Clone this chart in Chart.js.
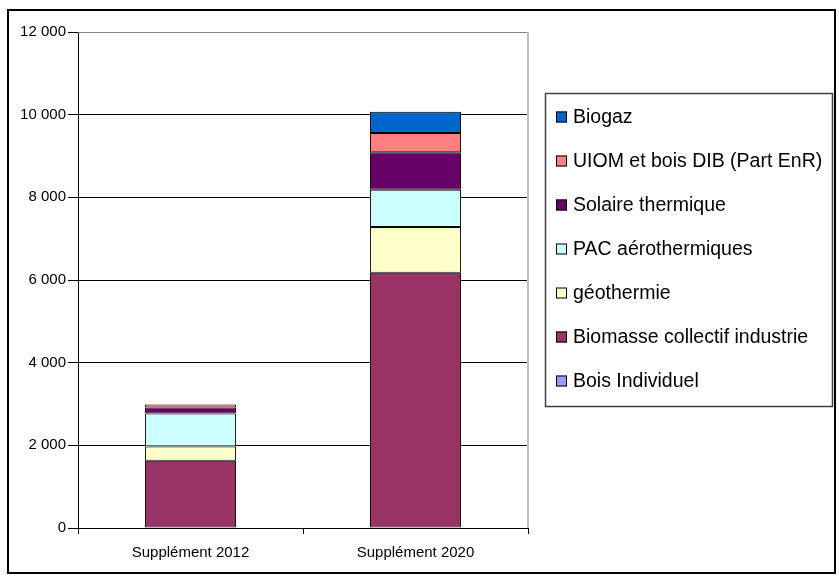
<!DOCTYPE html>
<html>
<head>
<meta charset="utf-8">
<script src="https://cdn.jsdelivr.net/npm/chart.js@4"></script>
<style>
    body { margin: 0; background: #fff; }
    #wrap { width: 839px; height: 580px; }
</style>
</head>
<body>
<div id="wrap"><canvas id="chart" width="839" height="580"></canvas></div>
<script>
const categories = ["Supplément 2012", "Supplément 2020"];

const seriesNames = [
    "Bois Individuel",
    "Biomasse collectif industrie",
    "géothermie",
    "PAC aérothermiques",
    "Solaire thermique",
    "UIOM et bois DIB (Part EnR)",
    "Biogaz"
];

const boisIndividuel = [0, 0];
const biomasse = [1630, 6175];
const geothermie = [340, 1110];
const pacAero = [800, 900];
const solaire = [145, 905];
const uiom = [75, 465];
const biogaz = [0, 515];

const yTicks = [0, 2000, 4000, 6000, 8000, 10000, 12000];

const colors = ["#9999FF", "#993366", "#FFFFCC", "#CCFFFF", "#660066", "#FF8080", "#0066CC"];
const seriesValues = [boisIndividuel, biomasse, geothermie, pacAero, solaire, uiom, biogaz];

function formatThousands(v) {
    return String(v).replace(/\B(?=(\d{3})+(?!\d))/g, " ");
}

const frameAndLegend = {
    id: "frameAndLegend",
    beforeDraw(chart) {
        const c = chart.ctx;
        c.save();
        c.fillStyle = "#fff";
        c.fillRect(0, 0, chart.width, chart.height);
        c.restore();
    },
    afterDraw(chart) {
        const c = chart.ctx;
        const area = chart.chartArea;
        c.save();

        // plot area edges (top and right)
        c.lineWidth = 1;
        c.strokeStyle = "#808080";
        c.beginPath();
        c.moveTo(area.left, area.top + 0.5);
        c.lineTo(area.right, area.top + 0.5);
        c.stroke();
        c.strokeStyle = "#c0c0c0";
        c.lineWidth = 2;
        c.beginPath();
        c.moveTo(area.right, area.top);
        c.lineTo(area.right, area.bottom);
        c.stroke();

        // outer frame
        c.strokeStyle = "#000";
        c.lineWidth = 2;
        c.strokeRect(8, 10, 827, 563);

        // legend box
        c.strokeStyle = "#404040";
        c.lineWidth = 1.5;
        c.strokeRect(545.5, 93.5, 287, 313);

        c.font = "19.5px 'Liberation Sans', Arial, sans-serif";
        c.textBaseline = "middle";
        c.textAlign = "left";
        let order = chart.data.datasets.slice().reverse();
        order.forEach((ds, i) => {
            let y = 117 + i * 44;
            c.fillStyle = ds.backgroundColor;
            c.fillRect(556, y - 5.5, 11, 11);
            c.strokeStyle = "#000";
            c.lineWidth = 1;
            c.strokeRect(556.5, y - 5, 10, 10);
            c.fillStyle = "#000";
            c.fillText(ds.label, 573, y + 1);
        });
        c.restore();
    }
};

const datasets = seriesNames.map((name, i) => ({
    label: name,
    data: seriesValues[i],
    backgroundColor: colors[i],
    borderColor: "#000",
    borderWidth: 1,
    borderSkipped: false,
    barPercentage: 0.405,
    categoryPercentage: 1
}));

new Chart(document.getElementById("chart"), {
    type: "bar",
    data: { labels: categories, datasets: datasets },
    options: {
        responsive: false,
        animation: false,
        layout: { padding: { top: 32, right: 311, bottom: 0, left: 0 } },
        plugins: {
            legend: { display: false },
            tooltip: { enabled: false }
        },
        scales: {
            x: {
                stacked: true,
                afterFit(scale) { scale.height = 52; },
                grid: {
                    display: true,
                    drawOnChartArea: false,
                    offset: true,
                    tickLength: 6,
                    tickColor: "#000"
                },
                border: { display: true, color: "#000", width: 1 },
                ticks: {
                    color: "#000",
                    padding: 10,
                    font: { family: "'Liberation Sans', Arial, sans-serif", size: 15 }
                }
            },
            y: {
                stacked: true,
                min: 0,
                max: 12000,
                afterFit(scale) { scale.width = 78; },
                afterBuildTicks(scale) { scale.ticks = yTicks.map(v => ({ value: v })); },
                grid: {
                    color: ctx => (ctx.tick && ctx.tick.value === 12000 ? "rgba(0,0,0,0)" : "#000"),
                    tickLength: 10,
                    tickColor: "#000"
                },
                border: { display: true, color: "#000", width: 1 },
                ticks: {
                    color: "#000",
                    padding: 2,
                    font: { family: "'Liberation Sans', Arial, sans-serif", size: 15 },
                    callback: v => formatThousands(v)
                }
            }
        }
    },
    plugins: [frameAndLegend]
});
</script>
</body>
</html>
